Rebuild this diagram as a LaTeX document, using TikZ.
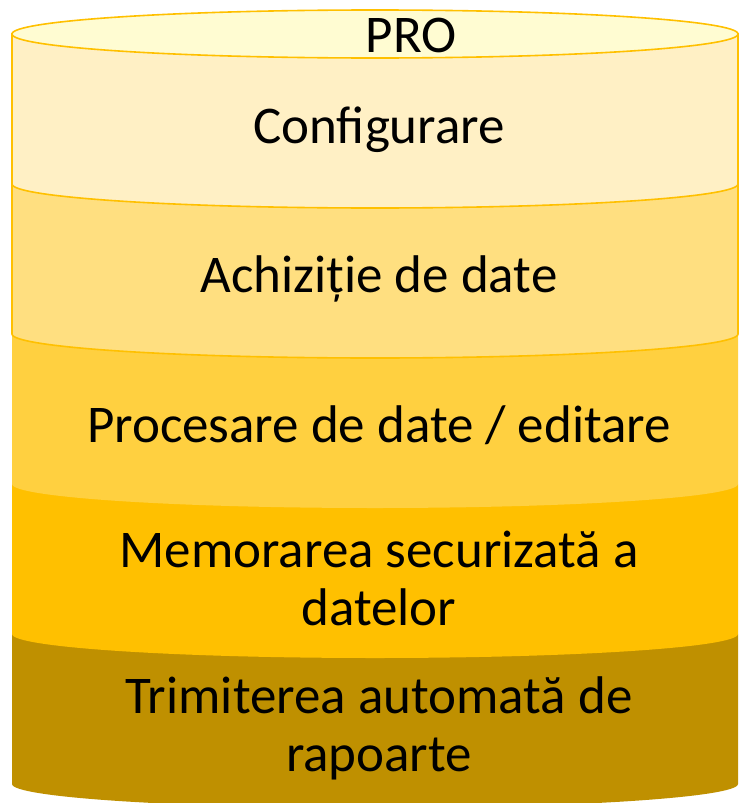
\documentclass[tikz,border=0pt]{standalone}
\usepackage{fontspec}
\setmainfont{Carlito}
\definecolor{topc}{HTML}{FFFCD2}
\definecolor{lone}{HTML}{FFF0C5}
\definecolor{ltwo}{HTML}{FFDF80}
\definecolor{lthree}{HTML}{FFD040}
\definecolor{lfour}{HTML}{FFC000}
\definecolor{lfive}{HTML}{BF9000}
\definecolor{edge}{HTML}{FFC000}
\begin{document}
\begin{tikzpicture}[x=1pt,y=-1pt,
  layertext/.style={font=\fontsize{53}{58}\selectfont, text=black, inner sep=0pt, align=center},
  rim/.style={draw=edge, line width=1.6pt}]
\useasboundingbox (0,0) rectangle (739,803);
% layers, bottom first
\foreach \i/\c/\s in {5/lfive/none,4/lfour/none,3/lthree/none,2/ltwo/edge,1/lone/edge}{
  \pgfmathsetmacro{\tp}{34+150*(\i-1)}
  \pgfmathsetmacro{\bt}{\tp+150}
  \path[fill=\c, draw=\s, line width=1.6pt] (12,\tp) -- (12,\bt) arc[start angle=180, end angle=0, x radius=363, y radius=24] -- (738,\tp) -- cycle;
}
% top ellipse
\path[fill=topc, rim] (375,34) ellipse[x radius=363, y radius=24];
\node[layertext, anchor=base] (pro) at (411,52) {PRO};
\node[layertext, anchor=base] (l1) at (379,143) {Configurare};
\node[layertext, anchor=base] (l2) at (379,292) {Achiziție de date};
\node[layertext, anchor=base] (l3) at (379,442) {Procesare de date / editare};
\node[layertext, anchor=center] (l4) at (379,578) {Memorarea securizată a\\datelor};
\node[layertext, anchor=center] (l5) at (379,728) {Trimiterea automată de\\rapoarte};
\end{tikzpicture}
\end{document}
